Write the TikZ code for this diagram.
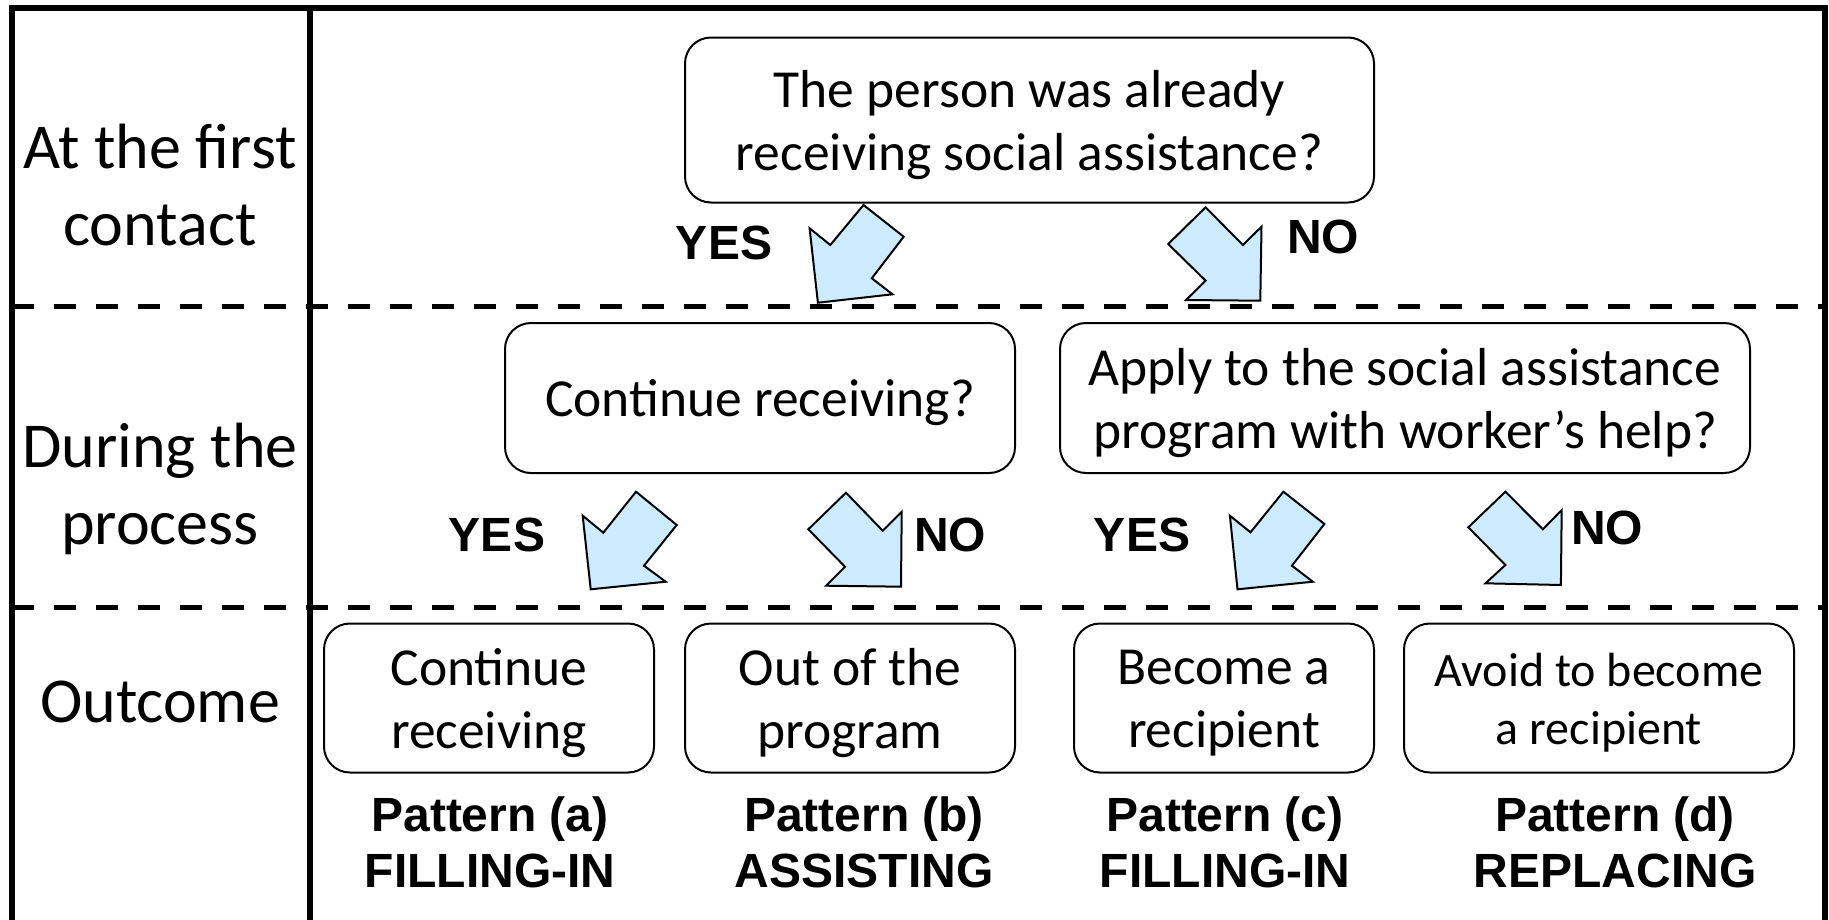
\documentclass[tikz,border=0pt]{standalone}
\usepackage{fontspec}
\setmainfont{Carlito}
\newfontfamily\arialfont{Liberation Sans}
\definecolor{arrowblue}{RGB}{205,235,255}
\tikzset{
  frameline/.style={line width=6pt, line join=miter},
  sepline/.style={line width=5pt, dash pattern=on 22pt off 20pt},
  qbox/.style={draw, line width=2pt, rounded corners=26pt, inner sep=0pt},
  qtext/.style={inner sep=0pt, align=center, yshift=-5pt,
     font=\fontsize{53.5}{63}\selectfont},
  phase/.style={inner sep=0pt, align=center, font=\fontsize{64}{77}\selectfont},
  answer/.style={inner sep=0pt, font=\arialfont\bfseries\fontsize{48}{56}\selectfont},
  pattern/.style={inner sep=0pt, align=center, font=\arialfont\bfseries\fontsize{48}{56}\selectfont},
  barrow/.style={draw, fill=arrowblue, line width=2pt, line join=miter}
}
\begin{document}
\begin{tikzpicture}[x=1pt, y=-1pt]
\useasboundingbox (0,0) rectangle (1829,919);
% frame
\draw[frameline] (12,925) -- (12,8) -- (1825,8) -- (1825,925);
\draw[frameline] (310,8) -- (310,925);
\draw[sepline] (12,306) -- (1825,306);
\draw[sepline] (12,607) -- (1825,607);
% phase labels
\node[phase] (ph1) at (160,185) {At the first\\contact};
\node[phase] (ph2) at (160,489) {During the\\process};
\node[phase] (ph3) at (160,702) {Outcome};
% question boxes
\node[qbox, minimum width=689pt, minimum height=165pt] (q1) at (1029.5,120) {};
\node[qtext] (q1t) at (q1.center) {The person was already\\receiving social assistance?};
\node[qbox, minimum width=510pt, minimum height=150pt] (q2) at (760,398) {};
\node[qtext] (q2t) at (q2.center) {Continue receiving?};
\node[qbox, minimum width=690pt, minimum height=150pt] (q3) at (1405,398) {};
\node[qtext] (q3t) at (q3.center) {Apply to the social assistance\\program with worker’s help?};
% outcome boxes
\node[qbox, minimum width=330pt, minimum height=149pt] (oa) at (489,698) {};
\node[qtext] (oat) at (oa.center) {Continue\\receiving};
\node[qbox, minimum width=330pt, minimum height=149pt] (ob) at (850,698) {};
\node[qtext] (obt) at (ob.center) {Out of the\\program};
\node[qbox, minimum width=300pt, minimum height=149pt] (oc) at (1224,698) {};
\node[qtext] (oct) at (oc.center) {Become a\\recipient};
\node[qbox, minimum width=390pt, minimum height=149pt] (od) at (1599,698) {};
\node[qtext, font=\fontsize{48}{58}\selectfont] (odt) at (od.center) {Avoid to become\\a recipient};
% pattern labels
\node[pattern] (pa) at (490,842) {Pattern (a)\\FILLING-IN};
\node[pattern] (pb) at (864,842) {Pattern (b)\\ASSISTING};
\node[pattern] (pc) at (1225,842) {Pattern (c)\\FILLING-IN};
\node[pattern] (pd) at (1615,842) {Pattern (d)\\REPLACING};
% answers
\node[answer] (y1) at (724,243) {YES};
\node[answer] (n1) at (1323,237) {NO};
\node[answer] (y2) at (497,535) {YES};
\node[answer] (n2) at (950,535) {NO};
\node[answer] (y3) at (1142,535) {YES};
\node[answer] (n3) at (1607,528) {NO};
% block arrows
\draw[barrow] (863.5,205) -- (903.7,236.7) -- (871.8,278.3) -- (892.5,294.3) -- (817.9,302.7) -- (809.6,228.3) -- (830.3,245) -- cycle;
\draw[barrow] (1205.6,207.3) -- (1242.9,245) -- (1261.5,226.7) -- (1260.3,300.7) -- (1186.1,300) -- (1205.6,280.7) -- (1168.2,244) -- cycle;
\draw[barrow] (636,491.7) -- (676.7,525) -- (644,565.7) -- (665.7,581.7) -- (590.7,589.3) -- (582.7,515.7) -- (603.3,532.7) -- cycle;
\draw[barrow] (846,492.7) -- (882.7,530.7) -- (901.7,511.7) -- (901,586.7) -- (826,585.7) -- (845,566.7) -- (808.3,529.3) -- cycle;
\draw[barrow] (1283.4,491.7) -- (1324.4,524) -- (1291.9,565.7) -- (1312.9,581.7) -- (1237.5,589.3) -- (1229.9,515.7) -- (1250.5,532.3) -- cycle;
\draw[barrow] (1505.4,491.7) -- (1542.9,529.3) -- (1561.7,510) -- (1560.9,585) -- (1485.5,583.3) -- (1505.4,565) -- (1468.3,527.3) -- cycle;
\end{tikzpicture}
\end{document}
